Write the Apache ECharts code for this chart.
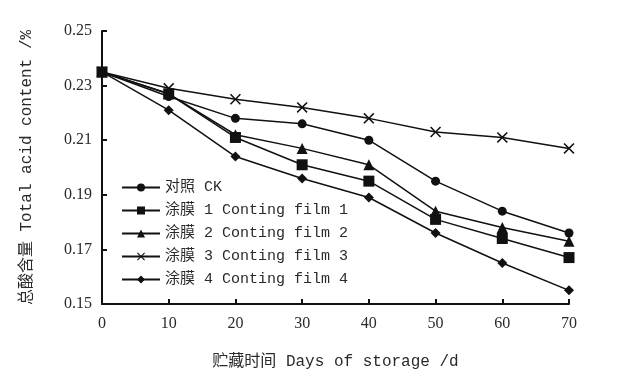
<!DOCTYPE html>
<html><head><meta charset="utf-8">
<script src="https://cdn.jsdelivr.net/npm/echarts@6/dist/echarts.min.js"></script>
<style>html,body{margin:0;padding:0;background:#fff}#c{width:617px;height:375px}</style>
</head><body><div id="c"></div>
<script>
var days = [0, 10, 20, 30, 40, 50, 60, 70];
var seriesNames = ['对照 CK', '涂膜 1 Conting film 1', '涂膜 2 Conting film 2', '涂膜 3 Conting film 3', '涂膜 4 Conting film 4'];
var ck     = [0.235, 0.226, 0.218, 0.216, 0.210, 0.195, 0.184, 0.176];
var film1  = [0.235, 0.227, 0.211, 0.201, 0.195, 0.181, 0.174, 0.167];
var film2  = [0.235, 0.227, 0.212, 0.207, 0.201, 0.184, 0.178, 0.173];
var film3  = [0.235, 0.229, 0.225, 0.222, 0.218, 0.213, 0.211, 0.207];
var film4  = [0.235, 0.221, 0.204, 0.196, 0.189, 0.176, 0.165, 0.155];
var yTicks = { min: 0.15, max: 0.25, step: 0.02 };
var xTicks = { min: 0, max: 70, step: 10 };

var crossPath = 'path://M1,0L5,4L9,0L10,1L6,5L10,9L9,10L5,6L1,10L0,9L4,5L0,1Z';
var symbols = ['circle', 'rect', 'triangle', crossPath, 'diamond'];
var sizes = [9, 11, 11, 11, 10];
var allData = [ck, film1, film2, film3, film4];

var serif = "'Liberation Serif','Noto Sans CJK SC',serif";
var mono = "'Liberation Mono','Noto Sans CJK SC',monospace";

var series = allData.map(function (vals, i) {
  return {
    name: seriesNames[i],
    type: 'line',
    data: vals.map(function (v, j) { return [days[j], v]; }),
    symbol: symbols[i],
    symbolSize: sizes[i],
    showAllSymbol: true,
    lineStyle: { color: '#111', width: 1.5 },
    itemStyle: { color: '#111', borderWidth: 0 },
    z: 10 - i
  };
});

var chart = echarts.init(document.getElementById('c'), null, { renderer: 'canvas' });
chart.setOption({
  backgroundColor: '#fff',
  animation: false,
  grid: { left: 102, right: 48, top: 31, bottom: 71 },
  legend: {
    orient: 'vertical',
    left: 116, top: 175,
    itemGap: 8,
    itemWidth: 38, itemHeight: 10,
    data: seriesNames,
    textStyle: { fontFamily: mono, fontSize: 15, color: '#2a2a2a' }
  },
  xAxis: {
    type: 'value',
    min: xTicks.min, max: xTicks.max, interval: xTicks.step,
    name: '贮藏时间 Days of storage /d',
    nameLocation: 'middle', nameGap: 50,
    nameTextStyle: { fontFamily: mono, fontSize: 16, color: '#2a2a2a' },
    axisLine: { lineStyle: { color: '#111', width: 2 } },
    axisTick: { inside: true, length: 5, lineStyle: { color: '#111', width: 2 } },
    axisLabel: { fontFamily: serif, fontSize: 16, color: '#2a2a2a', margin: 12 },
    splitLine: { show: false }
  },
  yAxis: {
    type: 'value',
    min: yTicks.min, max: yTicks.max, interval: yTicks.step,
    name: '总酸含量 Total acid content /%',
    nameLocation: 'middle', nameGap: 67,
    nameTextStyle: { fontFamily: mono, fontSize: 16, color: '#2a2a2a' },
    axisLine: { lineStyle: { color: '#111', width: 2 } },
    axisTick: { inside: true, length: 5, lineStyle: { color: '#111', width: 2 } },
    axisLabel: { fontFamily: serif, fontSize: 16, color: '#2a2a2a', margin: 10,
      formatter: function (v) { return v.toFixed(2); } },
    splitLine: { show: false }
  },
  series: series
});
</script></body></html>
